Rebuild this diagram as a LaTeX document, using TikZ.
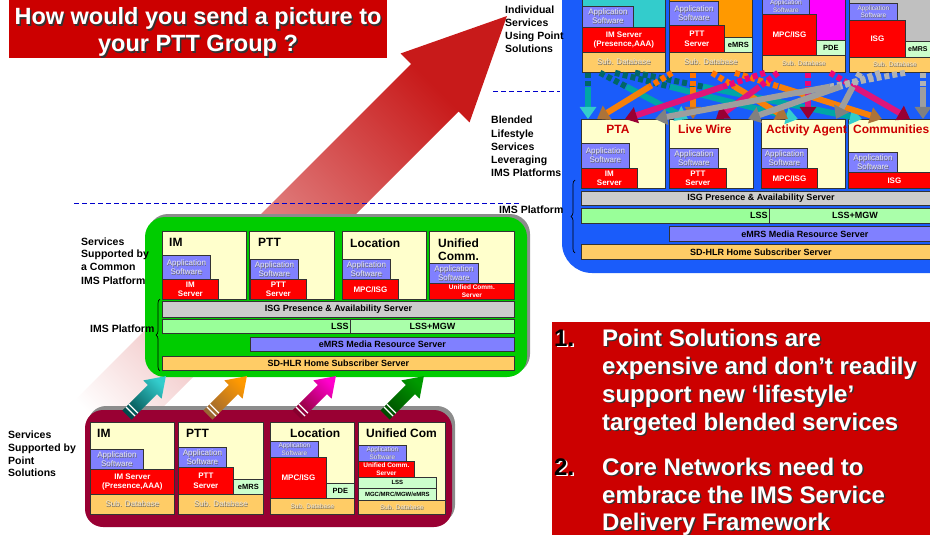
\documentclass[tikz,border=0pt]{standalone}
\usepackage{fontspec}
\setmainfont{Liberation Sans}
\usetikzlibrary{arrows.meta,calc,decorations.pathreplacing}

\definecolor{hdrred}{HTML}{CC0000}
\definecolor{cream}{HTML}{FFFFCC}
\definecolor{appblue}{HTML}{8080FF}
\definecolor{srvred}{HTML}{FF0000}
\definecolor{subdb}{HTML}{FFCC66}
\definecolor{lssgreen}{HTML}{99FF99}
\definecolor{mgwgreen}{HTML}{AAFFAA}
\definecolor{palegreen}{HTML}{CCFFCC}
\definecolor{isggray}{HTML}{CCCCCC}
\definecolor{imsgreen}{HTML}{00CC00}
\definecolor{maroonbox}{HTML}{990033}
\definecolor{skyblue}{HTML}{1A5CFA}
\definecolor{tealbg}{HTML}{33CCCC}
\definecolor{orangebg}{HTML}{FF9900}
\definecolor{magbg}{HTML}{FF00FF}
\definecolor{graybg}{HTML}{C0C0C0}
\definecolor{dashblue}{HTML}{0000CC}
\definecolor{edge}{HTML}{333333}
\definecolor{apptext}{HTML}{E8E8F4}
\definecolor{dbtext}{HTML}{EDE4D4}
\definecolor{bigred}{HTML}{C81A1A}
\definecolor{bigpink}{HTML}{E29A9A}

\tikzset{
  box/.style={draw=edge, line width=0.8pt, inner sep=0pt, anchor=north west, align=center},
  cr/.style={fill=cream},
  app/.style={fill=appblue, text=apptext, font=\fontsize{8}{9}\selectfont},
  appsm/.style={fill=appblue, text=apptext, font=\fontsize{6.5}{7.5}\selectfont},
  srv/.style={fill=srvred, text=white, font=\bfseries\fontsize{8}{9.5}\selectfont},
  srvsm/.style={fill=srvred, text=white, font=\bfseries\fontsize{6.5}{8}\selectfont},
  db/.style={fill=subdb, text=dbtext, font=\fontsize{8}{9}\selectfont},
  dbsm/.style={fill=subdb, text=dbtext, font=\fontsize{6.5}{7.5}\selectfont},
  pg/.style={fill=palegreen, font=\bfseries\fontsize{7.5}{8}\selectfont},
  pgsm/.style={fill=palegreen, font=\bfseries\fontsize{6}{7}\selectfont},
  bar/.style={font=\bfseries\fontsize{9}{10}\selectfont},
  stitle/.style={font=\bfseries\fontsize{12}{14}\selectfont, inner sep=0pt},
  btitle/.style={font=\bfseries\fontsize{12}{14}\selectfont, text=hdrred, inner sep=0pt},
  lbl/.style={font=\bfseries\fontsize{10.5}{13}\selectfont, inner sep=0pt, anchor=base west, align=left},
  ttl/.style={font=\bfseries\fontsize{23.5}{28}\selectfont, inner sep=0pt, anchor=base},
  blt/.style={font=\bfseries\fontsize{24}{28}\selectfont, inner sep=0pt, anchor=base west},
  sepline/.style={dashblue, line width=0.9pt, dash pattern=on 5pt off 3pt},
  bracestyle/.style={decorate, decoration={brace, amplitude=4pt}, line width=0.7pt},
  xline/.style={line width=6pt},
}

% light lettering with a thin dark edge, as used on the software and database layers
\newcommand\emb[1]{\makebox[0pt][l]{\raisebox{-0.6pt}{\hspace{0.6pt}\textcolor{black!60}{#1}}}#1}
\newcommand\appsw{\emb{Application}\\\emb{Software}}
\newcommand\subdbtxt{\emb{Sub. Database}}

% box by its corners: name, style, x1, y1, x2, y2, text
\newcommand\bx[7]{%
  \node[box,minimum width={(#5-#3)*1pt},minimum height={(#6-#4)*1pt},#2] (#1) at (#3,#4) {#7};}

% text line with a drop shadow: name, x, y, text, colour, shadow colour
\newcommand\shline[6]{%
  \node[blt,text=#6] (#1s) at (#2+1.5,#3+1.5) {#4};
  \node[blt,text=#5] (#1) at (#2,#3) {#4};}

% crossing feed arrow: tail colour, body colour, head colour, from, to
\newcommand\xarr[5]{%
  \draw[xline,#1,dash pattern=on 5pt off 3pt] (#4) -- ($(#4)!0.3!(#5)$);
  \draw[xline,#2,-{Triangle[width=16pt,length=12pt,color=#3,fill=#3]}] ($(#4)!0.3!(#5)$) -- (#5);}

% fat migration arrow pointing up-right from its tail: x, y, dark, light
\newcommand\fatarr[4]{%
  \begin{scope}[shift={(#1,#2)}]
    \shade[bottom color=#3, top color=#4, shading angle=-45]
      (-4.6,-4.6) -- (20.9,-30.0) -- (16.3,-34.6) -- (38.9,-38.9)
      -- (34.6,-16.3) -- (30.0,-20.9) -- (4.6,4.6) -- cycle;
    \draw[white, line width=1.2pt] (-1.06,-8.13) -- (8.13,1.06);
    \draw[white, line width=1.2pt] (1.77,-10.96) -- (10.96,-1.77);
  \end{scope}}

\begin{document}
\begin{tikzpicture}[x=1pt,y=-1pt]
\useasboundingbox (0,0) rectangle (930,535);
\clip (0,0) rectangle (930,535);

% ---------- big evolution arrow ----------
\shade[bottom color=white, middle color=bigpink, top color=bigred, shading angle=-45]
  (27.5,447.5) -- (411,64) -- (400.5,53.5) -- (507,16) -- (469.5,122.5)
  -- (458.5,111.5) -- (75,495) -- cycle;

% ---------- separators ----------
\draw[sepline] (74,203) -- (519,203);
\draw[sepline] (493,91) -- (560,91);

% ---------- title ----------
\node[box, fill=hdrred, draw=none, minimum width=378pt, minimum height=58pt] (title) at (9,0) {};
\node[ttl, text=black!80] (ttl1s) at (199.5,26.5) {How would you send a picture to};
\node[ttl, text=white] (ttl1) at (198,25) {How would you send a picture to};
\node[ttl, text=black!80] (ttl2s) at (199.5,53.5) {your PTT Group ?};
\node[ttl, text=white] (ttl2) at (198,52) {your PTT Group ?};

% ---------- blended services platform ----------
\fill[skyblue, rounded corners=30pt] (562,-40) rectangle (980,273);

% individual point-solution stacks
\bx{tbg1}{fill=tealbg}{582}{-5}{665}{30}{}
\bx{tapp1}{app}{582}{6}{633}{27}{\appsw}
\bx{tsrv1}{srv}{582}{27}{665}{52}{IM Server\\(Presence,AAA)}
\bx{tdb1}{db}{582}{52}{665}{72}{\subdbtxt}

\bx{tbg2}{fill=orangebg}{669}{-5}{752}{40}{}
\bx{tapp2}{app}{669}{1}{718}{25}{\appsw}
\bx{tsrv2}{srv}{669}{25}{724}{52}{PTT\\Server}
\bx{tpg2}{pg}{724}{37}{752}{52}{eMRS}
\bx{tdb2}{db}{669}{52}{752}{72}{\subdbtxt}

\bx{tbg3}{fill=magbg}{762}{-5}{845}{42}{}
\bx{tapp3}{appsm}{762}{-2}{809}{14}{\appsw}
\bx{tsrv3}{srv}{762}{14}{816}{55}{MPC/ISG}
\bx{tpg3}{pg}{816}{40}{845}{55}{PDE}
\bx{tdb3}{dbsm}{762}{55}{845}{72}{\subdbtxt}

\bx{tbg4}{fill=graybg}{849}{-5}{940}{43}{}
\bx{tapp4}{appsm}{849}{3}{897}{20}{\appsw}
\bx{tsrv4}{srv}{849}{20}{905}{57}{ISG}
\bx{tpg4}{pg}{905}{41}{940}{57}{}
\node[font=\bfseries\fontsize{7}{8}\selectfont, inner sep=0pt, anchor=west] (tpg4t) at ($(tpg4.west)+(3,0)$) {eMRS};
\bx{tdb4}{dbsm}{849}{57}{940}{72}{\subdbtxt}

% blended lifestyle services
\bx{pta}{cr}{581}{119}{665}{188}{}
\bx{ptaapp}{app}{581}{143}{629}{168}{\appsw}
\bx{ptasrv}{srv}{581}{168}{637}{188}{IM\\Server}
\bx{lw}{cr}{669}{119}{753}{188}{}
\bx{lwapp}{app}{669}{148}{718}{168}{\appsw}
\bx{lwsrv}{srv}{669}{168}{726}{188}{PTT\\Server}
\bx{aa}{cr}{761}{119}{845}{188}{}
\bx{aaapp}{app}{761}{148}{807}{168}{\appsw}
\bx{aasrv}{srv}{761}{168}{817}{188}{MPC/ISG}
\bx{com}{cr}{848}{119}{940}{188}{}
\bx{comapp}{app}{848}{152}{897}{172}{\appsw}
\bx{comsrv}{srv}{848}{172}{940}{188}{ISG}

\node[btitle, anchor=base] (ptat) at (618,134) {PTA};
\node[btitle, anchor=base west] (lwt) at (678,134) {Live Wire};
\node[btitle, anchor=base west] (aat) at (766,134) {Activity Agent};
\node[btitle, anchor=base west] (comt) at (853,134) {Communities};

% shared IMS layers
\bx{bisg}{fill=isggray,bar}{581}{191}{940}{205}{ISG Presence \& Availability Server}
\bx{blss}{fill=lssgreen}{581}{208}{769}{223}{}
\node[bar, anchor=east, inner sep=0pt] (blsst) at ($(blss.east)+(-2,0)$) {LSS};
\bx{bmgw}{fill=mgwgreen,bar}{769}{208}{940}{223}{LSS+MGW}
\bx{bemrs}{fill=appblue,bar}{669}{226}{940}{241}{eMRS Media Resource Server}
\bx{bhlr}{fill=subdb,bar}{581}{244}{940}{259}{SD-HLR Home Subscriber Server}

\draw[bracestyle] (575,253) -- (575,180);

% feeds from every point solution into the blended services
\coordinate (s1v) at ($(tdb1.south west)+(6,0)$);   \coordinate (e1v) at ($(pta.north west)+(7,0)$);
\coordinate (s1a) at ($(tdb1.south west)+(18,0)$);  \coordinate (e1a) at ($(lw.north west)+(19,0)$);
\coordinate (s1b) at ($(tdb1.south west)+(33,0)$);  \coordinate (e1b) at ($(aa.north west)+(37,0)$);
\coordinate (s1c) at ($(tdb1.south west)+(53,0)$);  \coordinate (e1c) at ($(com.north west)+(14,0)$);
\coordinate (s2v) at ($(tdb2.south west)+(24,0)$);  \coordinate (e2v) at ($(lw.north west)+(24,0)$);
\coordinate (s2a) at ($(tdb2.south west)+(3,0)$);   \coordinate (e2a) at ($(pta.north west)+(16,0)$);
\coordinate (s2b) at ($(tdb2.south west)+(43,0)$);  \coordinate (e2b) at ($(aa.north west)+(27,0)$);
\coordinate (s2c) at ($(tdb2.south west)+(66,0)$);  \coordinate (e2c) at ($(com.north west)+(34,0)$);
\coordinate (s3v) at ($(tdb3.south west)+(46,0)$);  \coordinate (e3v) at ($(aa.north west)+(47,0)$);
\coordinate (s3a) at ($(tdb3.south west)+(3,0)$);   \coordinate (e3a) at ($(pta.north west)+(44,0)$);
\coordinate (s3b) at ($(tdb3.south west)+(16,0)$);  \coordinate (e3b) at ($(lw.north west)+(47,0)$);
\coordinate (s3c) at ($(tdb3.south west)+(68,0)$);  \coordinate (e3c) at ($(com.north west)+(62,0)$);
\coordinate (s4v) at ($(tdb4.south west)+(74,0)$);  \coordinate (e4v) at ($(com.north west)+(75,0)$);
\coordinate (s4a) at ($(tdb4.south west)+(56,0)$);  \coordinate (e4a) at ($(pta.north west)+(74,0)$);
\coordinate (s4b) at ($(tdb4.south west)+(31,0)$);  \coordinate (e4b) at ($(lw.north west)+(79,0)$);
\coordinate (s4c) at ($(tdb4.south west)+(11,0)$);  \coordinate (e4c) at ($(aa.north west)+(75,0)$);

\xarr{teal!80!black}{teal!70!cyan}{tealbg}{s1v}{e1v}
\xarr{teal!80!black}{teal!70!cyan}{tealbg}{s1a}{e1a}
\xarr{teal!80!black}{teal!70!cyan}{tealbg}{s1b}{e1b}
\xarr{teal!80!black}{teal!70!cyan}{tealbg}{s1c}{e1c}
\xarr{orange!90!red}{orange!85!brown}{brown!90!black}{s2v}{e2v}
\xarr{orange!90!red}{orange!85!brown}{brown!90!black}{s2a}{e2a}
\xarr{orange!90!red}{orange!85!brown}{brown!90!black}{s2b}{e2b}
\xarr{orange!90!red}{orange!85!brown}{brown!90!black}{s2c}{e2c}
\xarr{magenta!80!red}{magenta!70!purple}{purple!80!black}{s3v}{e3v}
\xarr{magenta!80!red}{magenta!70!purple}{purple!80!black}{s3a}{e3a}
\xarr{magenta!80!red}{magenta!70!purple}{purple!80!black}{s3b}{e3b}
\xarr{magenta!80!red}{magenta!70!purple}{purple!80!black}{s3c}{e3c}
\xarr{black!30}{black!38}{black!50}{s4v}{e4v}
\xarr{black!30}{black!38}{black!50}{s4a}{e4a}
\xarr{black!30}{black!38}{black!50}{s4b}{e4b}
\xarr{black!30}{black!38}{black!50}{s4c}{e4c}

% ---------- common IMS platform ----------
\fill[black!45, rounded corners=20pt] (148,214) rectangle (530,374);
\fill[imsgreen, rounded corners=20pt] (145,217) rectangle (527,377);

\bx{gim}{cr}{162}{231}{246}{299}{}
\bx{gimapp}{app}{162}{255}{210}{279}{\appsw}
\bx{gimsrv}{srv}{162}{279}{218}{299}{IM\\Server}
\bx{gptt}{cr}{249}{231}{334}{299}{}
\bx{gpttapp}{app}{250}{259}{298}{279}{\appsw}
\bx{gpttsrv}{srv}{250}{279}{306}{299}{PTT\\Server}
\bx{gloc}{cr}{342}{231}{426}{299}{}
\bx{glocapp}{app}{342}{259}{390}{279}{\appsw}
\bx{glocsrv}{srv}{342}{279}{398}{299}{MPC/ISG}
\bx{guc}{cr}{429}{231}{514}{299}{}
\bx{gucapp}{app}{429}{263}{478}{283}{\appsw}
\bx{gucsrv}{srvsm}{429}{283}{514}{299}{Unified Comm.\\Server}

\node[stitle, anchor=base west] (gimt) at (169,246) {IM};
\node[stitle, anchor=base west] (gpttt) at (258,246) {PTT};
\node[stitle, anchor=base west] (gloct) at (350,247) {Location};
\node[stitle, anchor=base west] (guct) at (438,247) {Unified};
\node[stitle, anchor=base west] (guct2) at (438,260) {Comm.};

\bx{gisg}{fill=isggray,bar}{162}{301}{514}{317}{ISG Presence \& Availability Server}
\bx{glss}{fill=lssgreen}{162}{319}{350}{333}{}
\node[bar, anchor=east, inner sep=0pt] (glsst) at ($(glss.east)+(-2,0)$) {LSS};
\bx{gmgw}{fill=mgwgreen,bar}{350}{319}{514}{333}{LSS+MGW}
\bx{gemrs}{fill=appblue,bar}{250}{337}{514}{351}{eMRS Media Resource Server}
\bx{ghlr}{fill=subdb,bar}{162}{356}{514}{370}{SD-HLR Home Subscriber Server}

\draw[bracestyle] (160,371) -- (160,299);

% ---------- point solutions ----------
\fill[black!45, rounded corners=18pt] (88,406) rectangle (455,523);
\fill[maroonbox, rounded corners=18pt] (85,410) rectangle (452,527);

\bx{mim}{cr}{90}{422}{174}{514}{}
\bx{mimapp}{app}{90}{449}{143}{469}{\appsw}
\bx{mimsrv}{srv}{90}{469}{174}{494}{IM Server\\(Presence,AAA)}
\bx{mimdb}{db}{90}{494}{174}{514}{\subdbtxt}
\bx{mptt}{cr}{178}{422}{263}{514}{}
\bx{mpttapp}{app}{178}{447}{226}{467}{\appsw}
\bx{mpttsrv}{srv}{178}{467}{233}{494}{PTT\\Server}
\bx{mpttpg}{pg}{233}{479}{263}{494}{eMRS}
\bx{mpttdb}{db}{178}{494}{263}{514}{\subdbtxt}
\bx{mloc}{cr}{270}{422}{354}{514}{}
\bx{mlocapp}{appsm}{270}{441}{318}{457}{\appsw}
\bx{mlocsrv}{srv}{270}{457}{326}{498}{MPC/ISG}
\bx{mlocpg}{pg}{326}{483}{354}{498}{PDE}
\bx{mlocdb}{dbsm}{270}{498}{354}{514}{\subdbtxt}
\bx{muc}{cr}{358}{422}{445}{514}{}
\bx{mucapp}{appsm}{358}{445}{406}{461}{\appsw}
\bx{mucsrv}{srvsm}{358}{461}{414}{477}{Unified Comm.\\Server}
\bx{muclss}{pgsm}{358}{477}{436}{488}{LSS}
\bx{mucmgc}{pgsm}{358}{488}{436}{500}{MGC/MRC/MGW/eMRS}
\bx{mucdb}{dbsm}{358}{500}{445}{514}{\subdbtxt}

\node[stitle, anchor=base west] (mimt) at (97,437) {IM};
\node[stitle, anchor=base west] (mpttt) at (186,437) {PTT};
\node[stitle, anchor=base west] (mloct) at (290,437) {Location};
\node[stitle, anchor=base west] (muct) at (366,437) {Unified Com};

% migration arrows from point solutions to the common platform
\fatarr{127}{415}{teal!60!black}{tealbg}
\fatarr{208}{415}{brown!80!black}{orange!80!yellow}
\fatarr{297}{415}{purple!70!black}{magenta!80!red}
\fatarr{385}{415}{green!30!black}{green!60!black}

% ---------- side labels (on top of the platform edges) ----------
\node[lbl] (lind) at (505,14) {Individual};
\node[lbl] (lind2) at (505,27) {Services};
\node[lbl] (lind3) at (505,40) {Using Point};
\node[lbl] (lind4) at (505,53) {Solutions};

\node[lbl] (lbl1) at (491,124) {Blended};
\node[lbl] (lbl2) at (491,137) {Lifestyle};
\node[lbl] (lbl3) at (491,150) {Services};
\node[lbl] (lbl4) at (491,163) {Leveraging};
\node[lbl] (lbl5) at (491,176) {IMS Platforms};
\node[lbl] (limsr) at (499,213) {IMS Platform};

\node[lbl] (lcom1) at (81,245) {Services};
\node[lbl] (lcom2) at (81,257) {Supported by};
\node[lbl] (lcom3) at (81,270) {a Common};
\node[lbl] (lcom4) at (81,284) {IMS Platform};
\node[lbl] (limsl) at (90,332) {IMS Platform};

\node[lbl] (lpt1) at (8,438) {Services};
\node[lbl] (lpt2) at (8,451) {Supported by};
\node[lbl] (lpt3) at (8,464) {Point};
\node[lbl] (lpt4) at (8,476) {Solutions};

% ---------- conclusions ----------
\node[box, fill=hdrred, draw=none, minimum width=380pt, minimum height=220pt] (concl) at (552,322) {};
\shline{n1}{554}{346}{1.}{black}{white}
\shline{c1}{602}{346}{Point Solutions are}{white}{black!80}
\shline{c2}{602}{374}{expensive and don’t readily}{white}{black!80}
\shline{c3}{602}{402}{support new ‘lifestyle’}{white}{black!80}
\shline{c4}{602}{430}{targeted blended services}{white}{black!80}
\shline{n2}{554}{475}{2.}{black}{white}
\shline{c5}{602}{475}{Core Networks need to}{white}{black!80}
\shline{c6}{602}{503}{embrace the IMS Service}{white}{black!80}
\shline{c7}{602}{530}{Delivery Framework}{white}{black!80}
\end{tikzpicture}
\end{document}
